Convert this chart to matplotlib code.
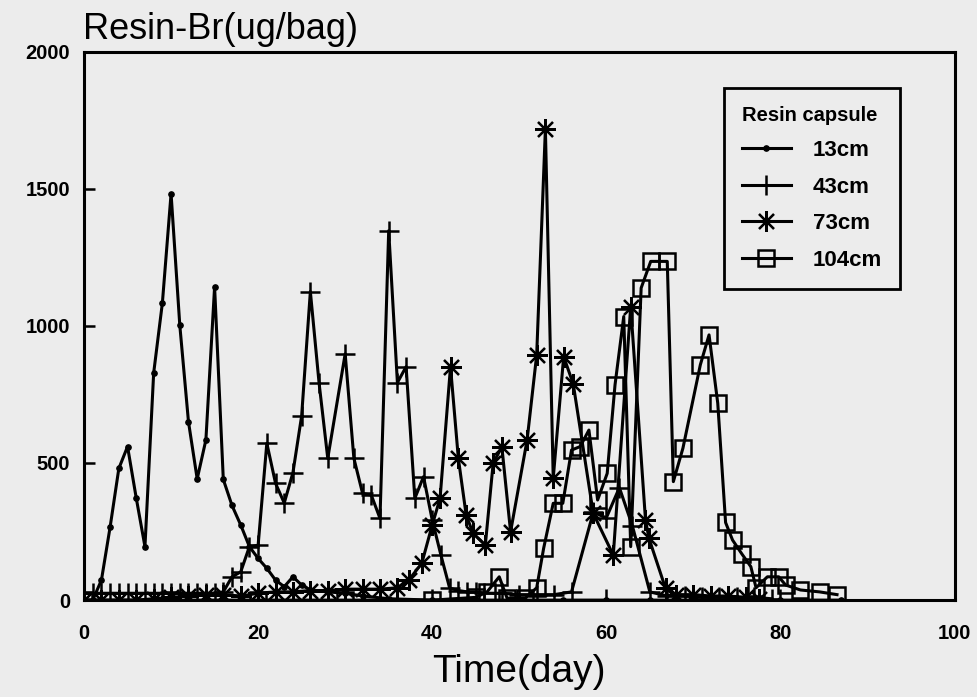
import numpy as np
import matplotlib
matplotlib.use("Agg")
import matplotlib.pyplot as plt

plt.rcParams['font.family'] = ['Liberation Sans', 'DejaVu Sans']

# resin capsule Br, ug/bag, at four depths
day_13 = [0, 1, 2, 3, 4, 5, 6, 7, 8, 9, 10, 11, 12, 13, 14, 15, 16, 17, 18, 19,
          20, 21, 22, 23, 24, 25, 26, 28, 30, 32, 35, 40, 45, 50, 55, 60, 65,
          70, 75, 80, 87]
br_13 = [0, 0, 73, 267, 480, 560, 372, 195, 828, 1083, 1482, 1003, 650, 442,
         584, 1142, 440, 345, 274, 195, 152, 116, 73, 49, 85, 55, 37, 30, 25,
         15, 5, 0, 0, 0, 0, 0, 0, 0, 0, 0, 0]

day_43 = [0, 1, 2, 3, 4, 5, 6, 7, 8, 9, 10, 11, 12, 13, 14, 15, 16, 17, 18, 19,
          20, 21, 22, 23, 24, 25, 26, 27, 28, 30, 31, 32, 33, 34, 35, 36, 37,
          38, 39, 40, 41, 42, 43, 44, 45, 46, 48, 50, 52, 54, 56, 58.5, 60,
          61.5, 63, 65, 67, 69, 71, 73, 75, 77, 79]
br_43 = [25, 25, 25, 25, 25, 25, 25, 25, 25, 25, 25, 25, 25, 25, 25, 25, 30,
         85, 103, 195, 200, 572, 426, 354, 465, 672, 1125, 792, 517, 898, 517,
         389, 383, 298, 1347, 793, 851, 371, 450, 292, 164, 44, 35, 30, 30, 25,
         25, 20, 20, 20, 30, 320, 300, 410, 270, 30, 15, 15, 10, 10, 10, 10, 5]

day_73 = [0, 2, 4, 6, 8, 10, 12, 14, 16, 18, 20, 22, 24, 26, 28, 30, 32, 34,
          36, 37.3, 38.8, 40, 40.9, 42.1, 43, 43.9, 44.7, 46.1, 47, 48, 49,
          50.9, 52, 53, 53.9, 55.1, 56.2, 58.5, 60.8, 62.8, 64.5, 64.9, 66.8,
          68, 70, 72, 74, 76, 77.5]
br_73 = [0, 0, 0, 0, 5, 10, 15, 20, 20, 15, 25, 30, 30, 35, 35, 40, 40, 40,
         45, 73, 134, 274, 371, 851, 517, 310, 243, 201, 499, 559, 249, 584,
         894, 1718, 444, 888, 788, 316, 164, 1070, 292, 225, 43, 20, 20, 15,
         15, 10, 5]

day_104 = [0, 10, 20, 30, 40, 45, 46.3, 47.7, 48.6, 50.7, 52, 52.8, 53.9, 55,
           56, 57, 58, 59, 60.1, 61, 62, 62.8, 64, 65.1, 67, 67.7, 68.8, 70.8,
           71.8, 72.8, 73.7, 74.5, 75.6, 76.6, 77.2, 78.5, 79.8, 80.6, 82.3,
           84.5, 86.5]
br_104 = [0, 0, 0, 0, 0, 10, 30, 85, 7, 7, 45, 189, 353, 353, 547, 560, 620,
          365, 462, 785, 1034, 195, 1138, 1235, 1235, 432, 554, 858, 967, 718,
          283, 219, 167, 122, 45, 85, 85, 55, 37, 30, 20]

paper = '#ececec'
fig = plt.figure(figsize=(9.77, 6.97), dpi=100, facecolor=paper)
ax = fig.add_axes([0.086, 0.139, 0.891, 0.787], facecolor=paper)

lw = 2.2
ax.plot(day_13, br_13, color='k', lw=lw, marker='o', ms=3.8, label='13cm')
ax.plot(day_43, br_43, color='k', lw=lw, marker='+', ms=15, mew=1.8,
        label='43cm')
ax.plot(day_73, br_73, color='k', lw=lw, marker=(8, 2, 0), ms=15, mew=1.6,
        label='73cm')
ax.plot(day_104, br_104, color='k', lw=lw, marker='s', ms=11, mew=1.8,
        mfc='none', label='104cm')

ax.set_xlim(0, 100)
ax.set_ylim(0, 2000)
ax.set_xticks([0, 20, 40, 60, 80, 100])
ax.set_yticks([0, 500, 1000, 1500, 2000])
ax.tick_params(direction='in', length=8, width=1.8, labelsize=14.5)
ax.tick_params(axis='x', pad=17)
ax.tick_params(axis='y', pad=10)
for lab in ax.get_xticklabels() + ax.get_yticklabels():
    lab.set_fontweight('bold')
for sp in ax.spines.values():
    sp.set_linewidth(2.2)

ax.set_xlabel('Time(day)', fontsize=28, labelpad=8)
fig.text(0.085, 0.958, 'Resin-Br(ug/bag)', fontsize=26, ha='left',
         va='center')

leg = ax.legend(title='Resin capsule', loc='upper left',
                bbox_to_anchor=(0.735, 0.934), borderaxespad=0, numpoints=1,
                frameon=True, fancybox=False, edgecolor='k', facecolor=paper,
                framealpha=1, handlelength=2.2, handletextpad=1.0,
                labelspacing=0.7, borderpad=0.8,
                prop={'size': 16, 'weight': 'bold'},
                title_fontproperties={'size': 14.5, 'weight': 'bold'})
leg.get_frame().set_linewidth(2)
leg._legend_box.align = 'left'

fig.savefig('out.png', dpi=100, facecolor=paper)
